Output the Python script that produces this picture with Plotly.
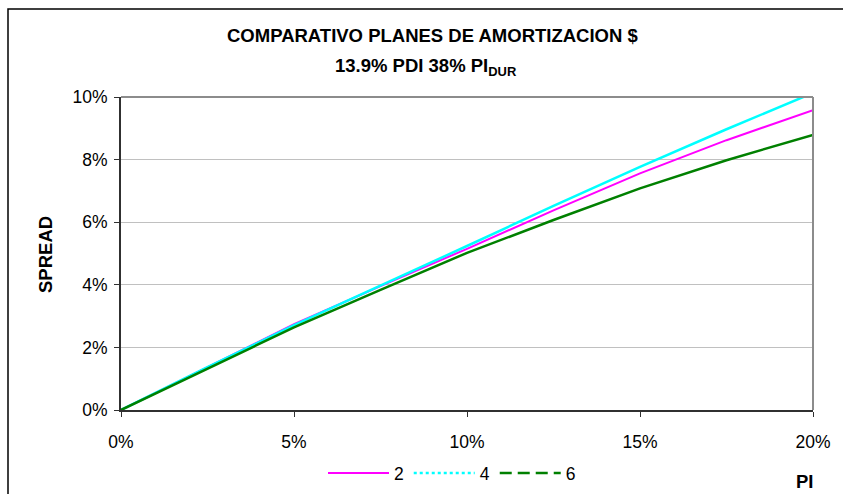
import plotly.graph_objects as go

# PI (%) on the x axis, spread (%) for each amortization plan
pi_pct = [0, 2.5, 5, 7.5, 10, 12.5, 15, 17.5, 20]
spread_2 = [0, 1.38, 2.74, 3.96, 5.15, 6.38, 7.56, 8.62, 9.58]
spread_4 = [0, 1.37, 2.71, 3.97, 5.24, 6.52, 7.77, 8.97, 10.13]
spread_6 = [0, 1.33, 2.64, 3.84, 5.02, 6.07, 7.08, 7.98, 8.79]

x_ticks = [0, 5, 10, 15, 20]
y_ticks = [0, 2, 4, 6, 8, 10]

series_names = ["2", "4", "6"]
series_values = [spread_2, spread_4, spread_6]
series_colors = ["#FF00FF", "#00FFFF", "#008000"]
series_dash = ["solid", "dot", "12px,6px"]
series_width = [2, 2.5, 2.5]

FONT = "Liberation Sans, Arial, sans-serif"
W, H = 843, 494
L, R, T, B = 121, 30, 97, 84

fig = go.Figure()

# data lines (drawn solid, as the dense series render)
for name, vals, col, wd in zip(series_names, series_values, series_colors, series_width):
    fig.add_trace(go.Scatter(
        x=pi_pct, y=vals, mode="lines", name=name, showlegend=False,
        line=dict(color=col, width=wd), cliponaxis=True,
    ))

# legend entries carry the dash styles
for name, col, dash, wd in zip(series_names, series_colors, series_dash, series_width):
    fig.add_trace(go.Scatter(
        x=[None], y=[None], mode="lines", name=name, showlegend=True,
        line=dict(color=col, width=wd, dash=dash),
    ))

pw = W - L - R
ph = H - T - B

def px_x(p):
    return (p - L) / pw

def px_y(p):
    return (H - B - p) / ph

fig.update_layout(
    width=W, height=H,
    margin=dict(l=L, r=R, t=T, b=B, autoexpand=False),
    paper_bgcolor="white", plot_bgcolor="white",
    font=dict(family=FONT, size=17, color="black"),
    showlegend=True,
    legend=dict(
        orientation="h", x=px_x(452), y=px_y(473), xanchor="center", yanchor="middle",
        font=dict(family=FONT, size=17.5, color="black"),
        bgcolor="rgba(0,0,0,0)", itemwidth=61, tracegroupgap=0,
    ),
    xaxis=dict(
        range=[0, 20], tickmode="array", tickvals=x_ticks,
        ticktext=[f"{v}%" for v in x_ticks],
        showgrid=False, zeroline=False,
        showline=True, linecolor="#303030", linewidth=2,
        ticks="outside", ticklen=5, tickcolor="#303030", tickwidth=1,
        ticklabelstandoff=10,
        tickfont=dict(family=FONT, size=17.5),
    ),
    yaxis=dict(
        range=[0, 10], tickmode="array", tickvals=y_ticks,
        ticktext=[f"{v}%" for v in y_ticks],
        showgrid=True, gridcolor="#C0C0C0", gridwidth=1, zeroline=False,
        showline=True, linecolor="#303030", linewidth=2,
        ticks="outside", ticklen=5, tickcolor="#303030", tickwidth=1,
        ticklabelstandoff=3,
        tickfont=dict(family=FONT, size=17.5),
    ),
)

# top and right plot-area border in gray
fig.add_shape(type="line", xref="paper", yref="paper", x0=0, x1=1, y0=1, y1=1,
              line=dict(color="#8C8C8C", width=2))
fig.add_shape(type="line", xref="paper", yref="paper", x0=1, x1=1, y0=0, y1=1,
              line=dict(color="#8C8C8C", width=2))

# outer chart frame
fig.add_shape(type="rect", xref="paper", yref="paper",
              x0=px_x(8), x1=px_x(850), y0=px_y(500), y1=px_y(9),
              line=dict(color="black", width=1.5), layer="below")

# titles
TITLE_SIZE = 18.5
fig.add_annotation(text="<b>COMPARATIVO PLANES DE AMORTIZACION $</b>",
                   xref="paper", yref="paper", x=px_x(432), y=px_y(35),
                   xanchor="center", yanchor="middle", showarrow=False,
                   font=dict(family=FONT, size=TITLE_SIZE, color="black"))
fig.add_annotation(text="<b>13.9% PDI 38% PI<sub>DUR</sub></b>",
                   xref="paper", yref="paper", x=px_x(426), y=px_y(67),
                   xanchor="center", yanchor="middle", showarrow=False,
                   font=dict(family=FONT, size=TITLE_SIZE, color="black"))
fig.add_annotation(text="<b>SPREAD</b>", textangle=-90,
                   xref="paper", yref="paper", x=px_x(45), y=px_y(255),
                   xanchor="center", yanchor="middle", showarrow=False,
                   font=dict(family=FONT, size=TITLE_SIZE, color="black"))
fig.add_annotation(text="<b>PI</b>",
                   xref="paper", yref="paper", x=px_x(804), y=px_y(481),
                   xanchor="center", yanchor="middle", showarrow=False,
                   font=dict(family=FONT, size=TITLE_SIZE, color="black"))

fig.write_html("out.html")
